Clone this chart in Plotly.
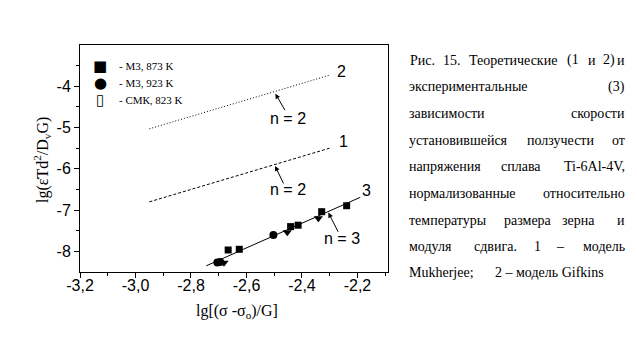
import plotly.graph_objects as go

# ---------------- data ----------------
sq_x = [-2.666, -2.626, -2.441, -2.414, -2.329, -2.239]
sq_y = [-7.967, -7.950, -7.400, -7.366, -7.039, -6.894]
ci_x = [-2.705, -2.695, -2.503]
ci_y = [-8.270, -8.260, -7.604]
tr_x = [-2.681, -2.453, -2.341]
tr_y = [-8.275, -7.539, -7.199]

line1_x = [-2.95, -2.30]
line1_y = [-6.80, -5.50]
line2_x = [-2.95, -2.30]
line2_y = [-5.03, -3.73]
line3_x = [-2.745, -2.19]
line3_y = [-8.35, -6.69]

x_ticks = [-3.2, -3.0, -2.8, -2.6, -2.4, -2.2]
x_ticktext = ["-3,2", "-3,0", "-2,8", "-2,6", "-2,4", "-2,2"]
x_minor = [-3.1, -2.9, -2.7, -2.5, -2.3, -2.1]
y_ticks = [-8, -7, -6, -5, -4]
y_ticktext = ["-8", "-7", "-6", "-5", "-4"]
y_minor = [-7.5, -6.5, -5.5, -4.5, -3.5]

legend_labels = ["- М3, 873 K", "- М3, 923 K", "- СМК, 823 K"]
legend_glyphs = ["■", "●", "▯"]

# (word, anchor, x-pixel)
caption_lines = [
    [("Рис.", "left", 408), ("15.", "center", 451.7), ("Теоретические", "center", 513.3),
     ("(1", "center", 572.5), ("и", "center", 592), ("2)", "center", 608.8), ("и", "right", 627)],
    [("экспериментальные", "left", 407), ("(3)", "right", 627)],
    [("зависимости", "left", 407), ("скорости", "right", 627)],
    [("установившейся", "left", 407), ("ползучести", "center", 560.8), ("от", "right", 627)],
    [("напряжения", "left", 407), ("сплава", "center", 520.5), ("Ti-6Al-4V,", "right", 627)],
    [("нормализованные", "left", 407), ("относительно", "right", 627)],
    [("температуры", "left", 407), ("размера", "center", 528.3), ("зерна", "center", 578.3),
     ("и", "right", 627)],
    [("модуля", "left", 407), ("сдвига.", "center", 495), ("1", "center", 537.5),
     ("–", "center", 560.8), ("модель", "right", 627)],
    [("Mukherjee;", "left", 407), ("2 – модель Gifkins", "left", 492.7)],
]
caption_y = [60.5, 86.5, 113, 140, 166.5, 193, 220, 246, 272.5]

# ---------------- figure ----------------
L, R, T, B = 80, 388, 45, 272
W, H = 637, 347
XR = [-3.2, -2.09]
YR = [-8.5, -3.0]


def px(xp):
    return (xp - L) / (R - L)


def py(yp):
    return (B - yp) / (B - T)


fig = go.Figure()
fig.add_trace(go.Scatter(x=line2_x, y=line2_y, mode="lines",
                         line=dict(color="black", width=1, dash="1px,2px")))
fig.add_trace(go.Scatter(x=line1_x, y=line1_y, mode="lines",
                         line=dict(color="black", width=1, dash="3px,2px")))
fig.add_trace(go.Scatter(x=line3_x, y=line3_y, mode="lines",
                         line=dict(color="black", width=1)))
fig.add_trace(go.Scatter(x=sq_x, y=sq_y, mode="markers",
                         marker=dict(symbol="square", size=7, color="black")))
fig.add_trace(go.Scatter(x=ci_x, y=ci_y, mode="markers",
                         marker=dict(symbol="circle", size=8, color="black")))
fig.add_trace(go.Scatter(x=tr_x, y=tr_y, mode="markers",
                         marker=dict(symbol="triangle-down", size=8, color="black")))

ann = []
sans = "Liberation Sans, Arial, sans-serif"
serif = "Liberation Serif, Times New Roman, serif"

# curve labels
for txt, xx, yy in [("2", -2.257, -3.637), ("1", -2.251, -5.343), ("3", -2.169, -6.530),
                    ("n = 2", -2.449, -4.776), ("n = 2", -2.452, -6.497), ("n = 3", -2.256, -7.70)]:
    ann.append(dict(x=xx, y=yy, xref="x", yref="y", text=txt, showarrow=False,
                    font=dict(family=sans, size=16, color="black")))

# arrows
for hx, hy, tx, ty in [(-2.496, -4.18, -2.458, -4.616),
                       (-2.497, -5.93, -2.464, -6.392),
                       (-2.305, -7.06, -2.267, -7.563)]:
    ann.append(dict(x=hx, y=hy, ax=tx, ay=ty, xref="x", yref="y", axref="x", ayref="y",
                    text="", showarrow=True, arrowhead=2, arrowsize=1, arrowwidth=1,
                    arrowcolor="black", standoff=0, startstandoff=0))

# legend
leg_y = [66, 83, 100]
for g, lab, yy in zip(legend_glyphs, legend_labels, leg_y):
    ann.append(dict(x=px(100), y=py(yy), xref="paper", yref="paper", text=g, showarrow=False,
                    xanchor="center", yanchor="middle",
                    font=dict(family="DejaVu Sans", size=15, color="black")))
    ann.append(dict(x=px(117), y=py(yy), xref="paper", yref="paper", text=lab, showarrow=False,
                    xanchor="left", yanchor="middle",
                    font=dict(family=serif, size=11, color="black")))

# axis titles
ann.append(dict(x=px(237), y=py(311), xref="paper", yref="paper",
                text="lg[(σ -σ<sub>o</sub>)/G]", showarrow=False,
                xanchor="center", yanchor="middle",
                font=dict(family=serif, size=16, color="black")))
ann.append(dict(x=px(42), y=py(160), xref="paper", yref="paper",
                text="lg(ε̇Td<sup>2</sup>/D<sub>v</sub>G)", showarrow=False, textangle=-90,
                xanchor="center", yanchor="middle",
                font=dict(family=serif, size=16, color="black")))

# caption
for words, yy in zip(caption_lines, caption_y):
    for w, anc, xx in words:
        ann.append(dict(x=px(xx), y=py(yy), xref="paper", yref="paper", text=w,
                        showarrow=False, xanchor=anc, yanchor="middle",
                        font=dict(family=serif, size=14, color="black")))

axis_common = dict(showline=True, linecolor="black", linewidth=1, mirror=True,
                   showgrid=False, zeroline=False, ticks="outside", ticklen=5,
                   tickcolor="black", tickwidth=1,
                   tickfont=dict(family=sans, size=16, color="black"))

fig.update_layout(
    width=W, height=H,
    margin=dict(l=L, r=W - R, t=T, b=H - B, pad=0),
    paper_bgcolor="white", plot_bgcolor="white",
    showlegend=False,
    annotations=ann,
    xaxis=dict(range=XR, tickmode="array", tickvals=x_ticks, ticktext=x_ticktext,
               ticklabelstandoff=-6,
               minor=dict(tickmode="array", tickvals=x_minor, ticks="outside", ticklen=3,
                          tickcolor="black", showgrid=False),
               **axis_common),
    yaxis=dict(range=YR, tickmode="array", tickvals=y_ticks, ticktext=y_ticktext,
               minor=dict(tickmode="array", tickvals=y_minor, ticks="outside", ticklen=3,
                          tickcolor="black", showgrid=False),
               **axis_common),
)

fig.write_html("out.html")
